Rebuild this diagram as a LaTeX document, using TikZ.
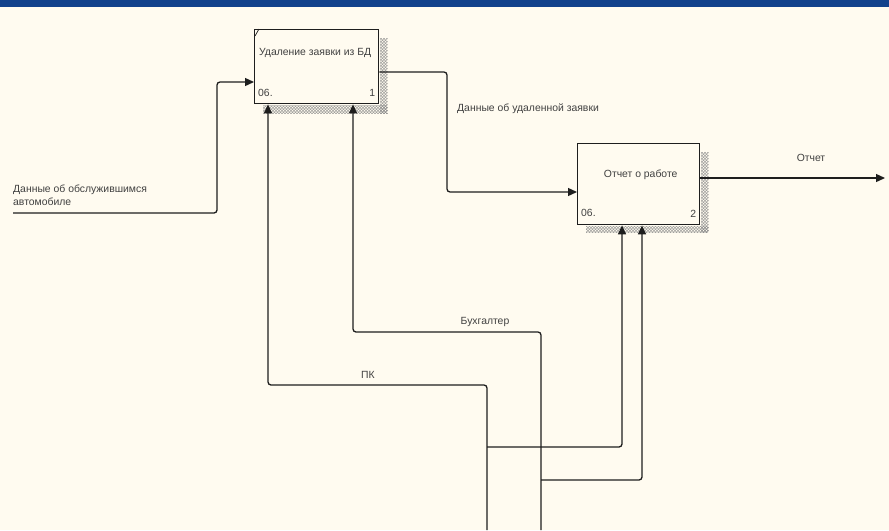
\documentclass[tikz,border=0pt]{standalone}
\usepackage{fontspec}
\setmainfont{Liberation Sans}
\usetikzlibrary{positioning,arrows.meta,patterns,calc}
\definecolor{paper}{RGB}{255,251,240}
\definecolor{bandblue}{RGB}{18,66,140}
\definecolor{ink}{RGB}{30,30,30}

\begin{document}
\begin{tikzpicture}[
    x=1pt, y=-1pt,
    act/.style={draw=ink, line width=1.4pt, fill=paper, inner sep=0pt, anchor=north west},
    hatch/.style={pattern=crosshatch, pattern color=gray!90},
    flow/.style={draw=ink, line width=1.3pt, rounded corners=3pt},
    arrow/.style={flow, -{Triangle[length=9pt,width=8pt]}},
    lbl/.style={font=\fontsize{10.4}{16}\selectfont, text=ink!85, inner sep=0pt}
]
% background and top band
\fill[paper] (0,0) rectangle (889,530);
\fill[bandblue] (0,0) rectangle (889,7);

% activity boxes
\node[act, minimum width=124pt, minimum height=74pt] (del) at (254,29) {};
\node[act, minimum width=122pt, minimum height=81pt] (rep) at (577,143) {};
\fill[hatch] ($(del.north east)+(0.7,9)$) rectangle ($(del.south east)+(8,9)$);
\fill[hatch] ($(del.south west)+(9,0.7)$) rectangle ($(del.south east)+(8,9)$);
\fill[hatch] ($(rep.north east)+(0.7,9)$) rectangle ($(rep.south east)+(8,7)$);
\fill[hatch] ($(rep.south west)+(9,0.7)$) rectangle ($(rep.south east)+(8,7)$);
\draw[ink, line width=0.7pt] ($(del.north west)+(1,7)$) -- ($(del.north west)+(5,0)$);

\node[lbl, anchor=west] (deltitle) at ($(del.north west)+(5,24)$) {Удаление заявки из БД};
\node[lbl, anchor=west] (delno) at ($(del.south west)+(4,-11)$) {06.};
\node[lbl, anchor=east] (delnum) at ($(del.south east)+(-4,-11)$) {1};
\node[lbl] (reptitle) at ($(rep.north)+(2,32)$) {Отчет о работе};
\node[lbl, anchor=west] (repno) at ($(rep.south west)+(4,-12)$) {06.};
\node[lbl, anchor=east] (repnum) at ($(rep.south east)+(-4,-12)$) {2};

% input
\coordinate (car) at (13,213);
\draw[arrow] (car) -- (217,213) -- (217,82) -- (del.west |- 0,82);
\node[lbl, anchor=west, align=left] (carlbl) at (13,195) {Данные об обслужившимся\\[-3pt]автомобиле};

% box 1 to box 2
\draw[arrow] (del.east |- 0,72) -- (447,72) -- (447,192) -- (rep.west |- 0,192);
\node[lbl, anchor=west] (dellbl) at (457,109) {Данные об удаленной заявки};

% output
\coordinate (out) at (885,178);
\draw[arrow] (rep.east |- 0,178) -- (out);
\node[lbl] (outlbl) at (811,158) {Отчет};

% mechanisms
\coordinate (pc) at (487,530);
\coordinate (acc) at (541,530);
\draw[arrow] (pc) -- (487,385) -- (268,385) -- (268,0 |- del.south);
\draw[arrow] (pc |- 0,447) -- (622,447) -- (622,0 |- rep.south);
\draw[arrow] (acc) -- (541,332) -- (353,332) -- (353,0 |- del.south);
\draw[arrow] (acc |- 0,480) -- (642,480) -- (642,0 |- rep.south);
\node[lbl] (pclbl) at (368,375) {ПК};
\node[lbl] (acclbl) at (485,322) {Бухгалтер};
\end{tikzpicture}
\end{document}
